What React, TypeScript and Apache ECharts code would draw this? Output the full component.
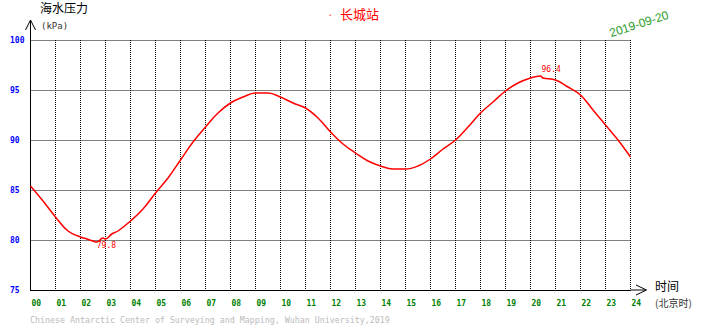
import React, { useEffect, useRef } from "react";
import * as echarts from "echarts";

const hours = [0, 0.5, 1, 1.5, 2, 2.25, 2.5, 2.65, 2.9, 3, 3.25, 3.5, 4, 4.5, 5, 5.5, 6, 6.5, 7, 7.5, 8, 8.5, 9, 9.5, 10, 10.5, 11, 11.5, 12, 12.5, 13, 13.5, 14, 14.5, 15, 15.5, 16, 16.5, 17, 17.5, 18, 18.5, 19, 19.5, 20, 20.4, 20.5, 21, 21.5, 22, 22.5, 23, 23.5, 24];
const pressure = [85.4, 83.9, 82.3, 80.9, 80.3, 80.1, 79.9, 79.8, 80.2, 80.1, 80.6, 80.9, 81.9, 83.1, 84.7, 86.2, 88.0, 89.8, 91.3, 92.7, 93.7, 94.3, 94.7, 94.7, 94.3, 93.7, 93.2, 92.2, 90.8, 89.6, 88.7, 87.9, 87.4, 87.1, 87.1, 87.4, 88.1, 89.1, 90.0, 91.3, 92.7, 93.8, 94.9, 95.7, 96.2, 96.4, 96.2, 96.0, 95.3, 94.5, 93.0, 91.5, 90.0, 88.3];

const yTitle = "海水压力";
const yUnit = "(kPa)";
const station = "长城站";
const dateText = "2019-09-20";
const xTitle = "时间";
const xUnit = "(北京时)";
const footer = "Chinese Antarctic Center of Surveying and Mapping, Wuhan University,2019";

const MONO = "DejaVu Sans Mono";
const CJK = "Noto Sans CJK SC";

export default function App() {
  const ref = useRef<HTMLDivElement>(null);
  useEffect(() => {
    document.body.style.margin = "0";
    const chart = echarts.init(ref.current!, null, { renderer: "svg" });
    const data = hours.map((h, i) => [h, pressure[i]]);
    chart.setOption({
      animation: false,
      backgroundColor: "#fff",
      grid: { left: 30.5, right: 79.5, top: 40, bottom: 38 },
      xAxis: {
        type: "value",
        min: 0,
        max: 24,
        interval: 1,
        axisLine: { show: true, onZero: false, lineStyle: { color: "#000", width: 1 } },
        axisTick: { show: false },
        axisLabel: {
          formatter: (v: number) => String(v).padStart(2, "0"),
          align: "left",
          margin: 9,
          color: "#008000",
          fontSize: 8,
          fontWeight: "bold",
          fontFamily: MONO,
          padding: [0, 0, 0, 1],
        },
        splitLine: { show: true, lineStyle: { color: "#000", width: 1, type: [1, 1] } },
      },
      yAxis: {
        type: "value",
        min: 75,
        max: 100,
        interval: 5,
        axisLine: { show: true, lineStyle: { color: "#000", width: 1 } },
        axisTick: { show: false },
        axisLabel: {
          align: "left",
          margin: 20.5,
          color: "#0000ff",
          fontSize: 8,
          fontWeight: "bold",
          fontFamily: MONO,
        },
        splitLine: { show: true, lineStyle: { color: "#000", width: 1, type: [1, 1] } },
      },
      series: [
        {
          type: "line",
          data,
          showSymbol: false,
          smooth: 0.4,
          lineStyle: { color: "#ff0000", width: 1.5 },
          itemStyle: { color: "#ff0000" },
          markPoint: {
            symbol: "circle",
            symbolSize: 0,
            data: [
              { type: "max", label: { position: [1, -11] } },
              { type: "min", label: { position: [0, -1] } },
            ],
            label: {
              show: true,
              formatter: (p: any) => Number(p.value).toFixed(1),
              color: "#ff0000",
              fontSize: 8,
              fontFamily: MONO,
            },
          },
        },
      ],
      graphic: [
        { type: "line", shape: { x1: 30.5, y1: 20, x2: 30.5, y2: 40 }, style: { stroke: "#000", lineWidth: 1 } },
        { type: "polyline", shape: { points: [[25.5, 30], [30.5, 20], [35.5, 30]] }, style: { stroke: "#000", lineWidth: 1, fill: "none" } },
        { type: "line", shape: { x1: 630.5, y1: 290, x2: 646, y2: 290 }, style: { stroke: "#000", lineWidth: 1 } },
        { type: "polyline", shape: { points: [[636, 285], [646.5, 290], [636, 295]] }, style: { stroke: "#000", lineWidth: 1, fill: "none" } },
        { type: "text", x: 40, y: 7, style: { text: yTitle, font: `12px "${CJK}"`, fill: "#000", verticalAlign: "middle" } },
        { type: "text", x: 41, y: 26, style: { text: yUnit, font: `9px "${MONO}"`, fill: "#333", verticalAlign: "middle" } },
        { type: "rect", shape: { x: 329.5, y: 14.5, width: 1.5, height: 1.5 }, style: { fill: "#ff6666" } },
        { type: "text", x: 340, y: 13.5, style: { text: station, font: `13px "${CJK}"`, fill: "#ff0000", verticalAlign: "middle" } },
        {
          type: "text",
          x: 639,
          y: 24,
          rotation: (18 * Math.PI) / 180,
          style: { text: dateText, font: `12px "Liberation Sans"`, fill: "#2e9e2e", align: "center", verticalAlign: "middle" },
        },
        { type: "text", x: 655, y: 285, style: { text: xTitle, font: `12px "${CJK}"`, fill: "#000", verticalAlign: "middle" } },
        { type: "text", x: 655, y: 302.5, style: { text: xUnit, font: `10px "${CJK}"`, fill: "#333", verticalAlign: "middle" } },
        { type: "text", x: 30, y: 320, style: { text: footer, font: `8.3px "${MONO}"`, fill: "#bbb", verticalAlign: "middle" } },
      ],
    });
    return () => chart.dispose();
  }, []);
  return <div ref={ref} style={{ position: "fixed", left: 0, top: 0, width: 710, height: 328 }} />;
}
